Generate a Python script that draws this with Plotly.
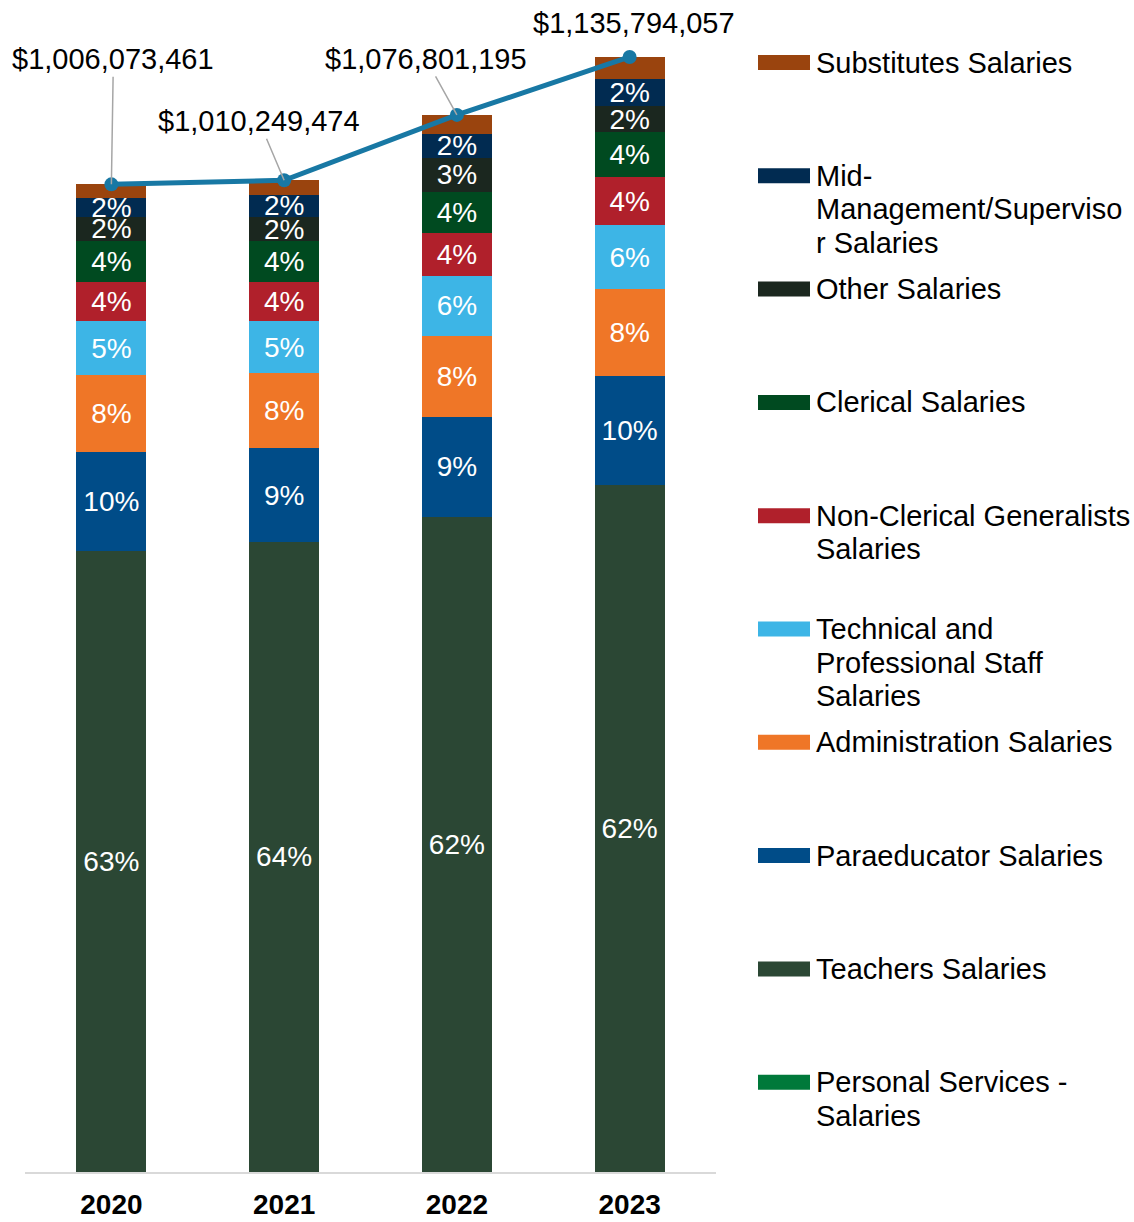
import plotly.graph_objects as go

# ---------------- data ----------------
years = ["2020", "2021", "2022", "2023"]
totals = [1006073461, 1010249474, 1076801195, 1135794057]

# segment values in millions of dollars (bottom -> top of stack)
personal_services = [0.0, 0.0, 0.0, 0.0]
teachers = [632.4, 641.8, 667.2, 699.5]
paraeducator = [100.6, 95.5, 101.9, 111.0]
administration = [78.8, 76.5, 82.8, 88.6]
technical = [54.8, 52.7, 60.8, 65.2]
non_clerical = [39.8, 39.8, 43.8, 48.9]
clerical = [41.8, 41.8, 41.8, 45.8]
other = [24.9, 24.8, 35.0, 27.2]
mid_management = [18.7, 22.4, 24.2, 26.8]
substitutes = [14.3, 15.0, 19.4, 22.7]

series = [
    ("Personal Services - Salaries", personal_services, "#00793A", False),
    ("Teachers Salaries", teachers, "#2B4734", True),
    ("Paraeducator Salaries", paraeducator, "#004C88", True),
    ("Administration Salaries", administration, "#EF7627", True),
    ("Technical and Professional Staff Salaries", technical, "#3DB5E6", True),
    ("Non-Clerical Generalists Salaries", non_clerical, "#B0202B", True),
    ("Clerical Salaries", clerical, "#004A20", True),
    ("Other Salaries", other, "#1B271F", True),
    ("Mid-Management/Supervisor Salaries", mid_management, "#012B51", True),
    ("Substitutes Salaries", substitutes, "#9A440E", False),
]

# legend (top -> bottom) with the wrapped lines as they appear
legend_items = [
    (["Substitutes Salaries"], "#9A440E"),
    (["Mid-", "Management/Superviso", "r Salaries"], "#012B51"),
    (["Other Salaries"], "#1B271F"),
    (["Clerical Salaries"], "#004A20"),
    (["Non-Clerical Generalists", "Salaries"], "#B0202B"),
    (["Technical and", "Professional Staff", "Salaries"], "#3DB5E6"),
    (["Administration Salaries"], "#EF7627"),
    (["Paraeducator Salaries"], "#004C88"),
    (["Teachers Salaries"], "#2B4734"),
    (["Personal Services -", "Salaries"], "#00793A"),
]

FONT = "Liberation Sans, Arial, Helvetica, sans-serif"
W, H = 1134, 1222
ML, MR, MT, MB = 25, 418, 10, 50
PW, PH = W - ML - MR, H - MT - MB

def px_x(px):
    return (px - ML) / PW

def px_y(py):
    return (H - MB - py) / PH

bar_sums = [sum(s[1][i] for s in series) for i in range(len(years))]

fig = go.Figure()
for name, vals, color, labeled in series:
    yv = [v * 1e6 for v in vals]
    if labeled:
        text = [f"{round(v / bar_sums[i] * 100)}%" for i, v in enumerate(vals)]
    else:
        text = None
    fig.add_trace(go.Bar(
        x=years, y=yv, name=name,
        marker=dict(color=color, line=dict(width=0)),
        text=text, textposition="inside" if labeled else "none",
        insidetextanchor="middle", textangle=0, constraintext="none",
        insidetextfont=dict(family=FONT, size=28, color="white"),
        showlegend=False, hoverinfo="name+y",
    ))

fig.add_trace(go.Scatter(
    x=years, y=totals, mode="lines+markers", name="Total",
    line=dict(color="#1878A4", width=5),
    marker=dict(color="#1878A4", size=14),
    showlegend=False,
))

# total labels
label_offsets = [(2, -125, True), (-25, -59, True), (-31, -56, True), (4, -34, False)]
for i, (tot, (ax, ay, arrow)) in enumerate(zip(totals, label_offsets)):
    txt = "${:,}".format(tot)
    if arrow:
        fig.add_annotation(x=i, y=tot, xref="x", yref="y", text=txt,
                           showarrow=True, arrowhead=0, arrowwidth=1.5,
                           arrowcolor="#A6A6A6", ax=ax, ay=ay, standoff=0,
                           font=dict(family=FONT, size=29, color="#000000"))
    else:
        fig.add_annotation(x=i, y=tot, xref="x", yref="y", text=txt,
                           showarrow=False, xshift=ax, yshift=-ay,
                           font=dict(family=FONT, size=29, color="#000000"))

# manual legend
first_center = 62.5
step = 113.3
line_gap = 33.5
for k, (lines, color) in enumerate(legend_items):
    cy = first_center + k * step
    fig.add_shape(type="rect", xref="paper", yref="paper",
                  x0=px_x(758), x1=px_x(810), y0=px_y(cy + 7.5), y1=px_y(cy - 7.5),
                  fillcolor=color, line=dict(width=0), layer="above")
    for j, ln in enumerate(lines):
        fig.add_annotation(x=px_x(814), y=px_y(cy + j * line_gap), xref="paper", yref="paper",
                           text=ln, showarrow=False, xanchor="left", yanchor="middle",
                           font=dict(family=FONT, size=29, color="#000000"))

fig.update_layout(
    width=W, height=H,
    margin=dict(l=ML, r=MR, t=MT, b=MB, pad=0, autoexpand=False),
    barmode="stack", bargap=0.595,
    plot_bgcolor="white", paper_bgcolor="white",
    font=dict(family=FONT, color="#000000"),
    xaxis=dict(type="category", range=[-0.5, 3.5], autorange=False, automargin=False,
               showline=True, linecolor="#D9D9D9", linewidth=2,
               ticks="", showgrid=False, zeroline=False,
               tickfont=dict(family=FONT, size=28, color="#000000", weight="bold"),
               ticklabelstandoff=6),
    yaxis=dict(range=[0, 1183.66e6], visible=False, showgrid=False, zeroline=False,
               automargin=False),
)

fig.write_html("out.html", post_script="document.body.style.margin='0';",
               config={"displayModeBar": False})
